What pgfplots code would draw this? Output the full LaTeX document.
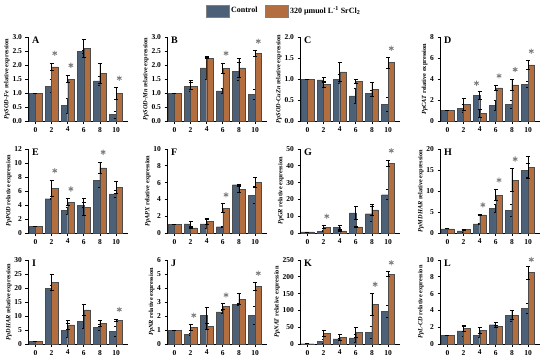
\documentclass[border=0pt]{standalone}
\usepackage{pgfplots}
\usepackage{pgfplotstable}
\pgfplotsset{compat=1.18}
\usepackage{fontspec}
\setmainfont{Liberation Serif}
\definecolor{ctrl}{RGB}{76,96,120}
\definecolor{trt}{RGB}{178,110,62}
\definecolor{stargray}{RGB}{125,125,125}

\pgfplotsset{
 panel/.style={
  scale only axis, width=100pt, height=84pt,
  xmin=-0.46, xmax=5.74, ymin=0,
  axis x line=bottom, axis y line=left,
  axis line style={-, line width=0.9pt, black},
  xtick={0,...,5}, xticklabels={0,2,4,6,8,10},
  tick align=outside, major tick length=2.5pt,
  tick style={line width=0.8pt, black},
  ticklabel style={font=\fontsize{7.5}{8}\selectfont\bfseries},
  /pgf/number format/assume math mode=true,
  ylabel style={font=\fontsize{6.3}{7}\selectfont\bfseries, yshift=-4pt},
  clip=false,
 },
 dec/.style={yticklabel style={/pgf/number format/fixed, /pgf/number format/precision=1, /pgf/number format/fixed zerofill}},
 cbar/.style={ybar, forget plot, bar width=6.5pt, bar shift=-3.25pt, fill=ctrl, draw=black!70, line width=0.3pt,
   error bars/y dir=both, error bars/y explicit,
   error bars/error bar style={black, line width=0.7pt},
   error bars/error mark options={rotate=90, black, mark size=2pt, line width=0.7pt}},
 tbar/.style={ybar, forget plot, bar width=6.5pt, bar shift=3.25pt, fill=trt, draw=black!70, line width=0.3pt,
   error bars/y dir=both, error bars/y explicit,
   error bars/error bar style={black, line width=0.7pt},
   error bars/error mark options={rotate=90, black, mark size=2pt, line width=0.7pt}},
 starplot/.style={forget plot, only marks, mark=asterisk, mark size=2.6pt, stargray, mark options={line width=0.9pt}},
}
\tikzset{letter/.style={anchor=north west, font=\fontsize{10}{11}\selectfont\bfseries, inner sep=0pt}}

\pgfplotstableread{
x c ce t te
0 1 0 1 0
1 1.25 0.22 1.93 0.13
2 0.55 0.27 1.50 0.13
3 2.48 0.05 2.60 0.32
4 1.43 0.15 1.70 0.35
5 0.23 0.12 0.98 0.22
}\dataA
\pgfplotstableread{
x c ce t te
0 1 0 1 0
1 1.25 0.20 1.25 0.12
2 1.90 0.40 2.25 0.03
3 1.08 0.08 1.88 0.18
4 1.78 0.32 1.90 0.35
5 0.95 0.18 2.42 0.10
}\dataB
\pgfplotstableread{
x c ce t te
0 1 0 1 0
1 0.98 0.06 0.88 0.07
2 1.00 0.10 1.17 0.22
3 0.60 0.17 0.95 0.05
4 0.66 0.07 0.75 0.17
5 0.40 0.16 1.39 0.13
}\dataC
\pgfplotstableread{
x c ce t te
0 1 0 1 0
1 1.20 0.35 1.60 0.55
2 2.45 0.35 0.75 0.40
3 1.50 0.45 3.15 0.20
4 1.60 0.35 3.45 0.55
5 3.50 0.30 5.35 0.40
}\dataD
\pgfplotstableread{
x c ce t te
0 1 0 1 0
1 4.9 0.05 6.4 1.1
2 3.2 0.5 4.4 0.5
3 4.0 0.4 3.7 1.2
4 7.5 1.0 9.3 0.8
5 5.6 0.5 6.5 0.9
}\dataE
\pgfplotstableread{
x c ce t te
0 1 0 1 0
1 1.1 0.3 0.6 0.05
2 1.1 0.55 1.4 0.35
3 0.75 0.1 2.95 0.55
4 5.75 0.1 5.2 0.35
5 4.5 1.0 6.0 0.6
}\dataF
\pgfplotstableread{
x c ce t te
0 0.6 0 0.6 0
1 1.0 0.3 3.5 1.0
2 3.3 1.0 1.2 0.5
3 12 4 3.6 0.3
4 11.5 4.5 13.8 3
5 22.8 3 41.3 1.8
}\dataG
\pgfplotstableread{
x c ce t te
0 1 0 1 0
1 0.5 0.3 0.85 0.1
2 2.2 0.2 4.3 0.2
3 5.8 1.0 9.0 1.3
4 5.4 1.4 12.6 2.8
5 14.9 1.7 15.6 2.6
}\dataH
\pgfplotstableread{
x c ce t te
0 1 0 1 0
1 20 0.8 22 3
2 5 2.5 6.8 1.6
3 8 2.3 12.2 2
4 5.9 1.2 7.4 1
5 4.5 1.8 8.4 0.4
}\dataI
\pgfplotstableread{
x c ce t te
0 1 0 1 0
1 0.7 0.08 1.2 0.22
2 2.05 0.55 1.25 0.2
3 2.3 0.12 2.7 0.2
4 2.82 0.05 3.2 0.4
5 2.05 0.65 4.1 0.3
}\dataJ
\pgfplotstableread{
x c ce t te
0 1 0 1 0
1 8 5 32 10
2 15 3 20 8
3 18 12 35 15
4 35 17 118 33
5 97 18 208 8
}\dataK
\pgfplotstableread{
x c ce t te
0 1 0 1 0
1 1.55 0.6 1.9 0.35
2 1.0 0.25 1.65 0.35
3 2.3 0.3 2.1 0.1
4 3.4 0.65 3.45 0.55
5 4.25 0.6 8.5 0.8
}\dataL

% #1 x, #2 y, #3 table, #4 ymax, #5 yticks, #6 ylabel, #7 letter, #8 stars, #9 extra
\newcommand{\panel}[9]{%
\begin{axis}[panel, at={(#1pt,#2pt)}, anchor=south west, ymax=#4, ytick={#5}, ylabel={#6}, #9]
\addplot[cbar] table[x=x,y=c,y error=ce]{#3};
\addplot[tbar] table[x=x,y=t,y error=te]{#3};
\addplot[starplot] coordinates {#8};
\node[letter] at (rel axis cs:0.04,1.0) {#7};
\end{axis}}

\begin{document}
\begin{tikzpicture}
\useasboundingbox (0,0) rectangle (550pt,360pt);
% Row 1
\begin{axis}[panel, dec, at={(28pt,239pt)}, anchor=south west, ymax=3, ytick={0,0.5,...,3},
  ylabel={\textit{PpSOD-Fe} relative expression},
  legend style={at={(rel axis cs:2.56,1.31)}, anchor=center, draw=none, fill=none,
    legend columns=2, font=\fontsize{8}{9}\selectfont\bfseries,
    /tikz/every even column/.append style={column sep=5pt}},
  legend image code/.code={\draw[#1] (0pt,-6pt) rectangle (23pt,6pt);}]
\addlegendimage{fill=ctrl, draw=black!50}
\addlegendentry{Control}
\addlegendimage{fill=trt, draw=black!50}
\addlegendentry{320 µmuol L\textsuperscript{-1} SrCl\textsubscript{2}}
\addplot[cbar] table[x=x,y=c,y error=ce]{\dataA};
\addplot[tbar] table[x=x,y=t,y error=te]{\dataA};
\addplot[starplot] coordinates {(1.2,2.42) (2.2,1.99) (5.2,1.53)};
\node[letter] at (rel axis cs:0.04,1.0) {A};
\end{axis}
\panel{167}{239}{\dataB}{3}{0,0.5,...,3}{\textit{PpSOD-Mn} relative expression}{B}{(3.2,2.42) (5.2,2.85)}{dec}
\panel{300}{239}{\dataC}{2}{0,0.5,...,2}{\textit{PpSOD-CuZn} relative expression}{C}{(5.2,1.73)}{dec}
\panel{440}{239}{\dataD}{8}{0,2,...,8}{\textit{PpCAT} relative expression}{D}{(1.8,3.6) (3.2,4.3) (4.2,4.9) (5.2,6.65)}{}
% Row 2
\panel{28}{127}{\dataE}{12}{0,2,...,12}{\textit{PpPOD} relative expression}{E}{(1.2,8.9) (2.2,6.3) (4.2,11.55)}{}
\panel{167}{127}{\dataF}{10}{0,2,...,10}{\textit{PpAPX} relative expression}{F}{(3.2,4.55)}{}
\panel{300}{127}{\dataG}{50}{0,10,...,50}{\textit{PpGR} relative expression}{G}{(1.2,10) (5.2,49)}{}
\panel{440}{127}{\dataH}{20}{0,5,...,20}{\textit{PpMDHAR} relative expression}{H}{(2.2,6.7) (3.2,12.6) (4.2,17.6)}{}
% Row 3
\panel{28}{16}{\dataI}{30}{0,5,...,30}{\textit{PpDHAR} relative expression}{I}{(5.2,12.3)}{}
\panel{167}{16}{\dataJ}{6}{0,1,...,6}{\textit{PpNR} relative expression}{J}{(1.2,2.05) (3.2,3.5) (5.2,5.05)}{}
\panel{300}{16}{\dataK}{250}{0,50,...,250}{\textit{PpNAT} relative expression}{K}{(4.2,178) (5.2,242)}{}
\panel{440}{16}{\dataL}{10}{0,2,...,10}{\textit{PpL-CD} relative expression}{L}{(5.2,10.05)}{}
\end{tikzpicture}
\end{document}
